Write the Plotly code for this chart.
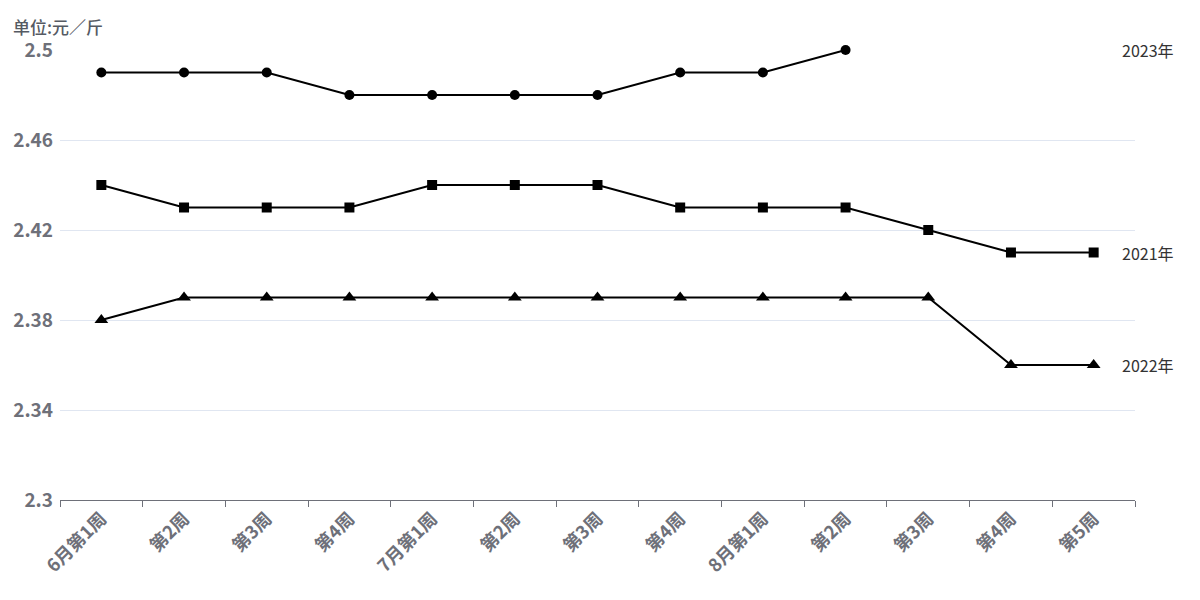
import plotly.graph_objects as go

categories = ["6月第1周", "第2周", "第3周", "第4周", "7月第1周", "第2周", "第3周",
              "第4周", "8月第1周", "第2周", "第3周", "第4周", "第5周"]
y2021 = [2.44, 2.43, 2.43, 2.43, 2.44, 2.44, 2.44, 2.43, 2.43, 2.43, 2.42, 2.41, 2.41]
y2022 = [2.38, 2.39, 2.39, 2.39, 2.39, 2.39, 2.39, 2.39, 2.39, 2.39, 2.39, 2.36, 2.36]
y2023 = [2.49, 2.49, 2.49, 2.48, 2.48, 2.48, 2.48, 2.49, 2.49, 2.50]
yticks = [2.3, 2.34, 2.38, 2.42, 2.46, 2.5]
ytick_text = ["2.3", "2.34", "2.38", "2.42", "2.46", "2.5"]
label_names = ["2023年", "2021年", "2022年"]
label_values = [2.50, 2.41, 2.36]

FONT = "Noto Sans CJK SC"
GRAY = "#6e7079"

fig = go.Figure()
series = [("2021年", y2021, "square", 10), ("2022年", y2022, "triangle-up", 12), ("2023年", y2023, "circle", 10)]
for name, ys, sym, sz in series:
    fig.add_trace(go.Scatter(
        x=list(range(len(ys))), y=ys, name=name, mode="lines+markers",
        line=dict(color="#000000", width=2),
        marker=dict(symbol=sym, size=sz, color="#000000"),
        cliponaxis=False, showlegend=False,
    ))

for txt, yv in zip(label_names, label_values):
    fig.add_annotation(x=1060/1075, xref="paper", y=yv, yref="y", text=txt,
                       showarrow=False, xanchor="left", yanchor="middle",
                       font=dict(family=FONT, size=16, color="#333333"))

fig.add_annotation(x=-49/1075, xref="paper", xanchor="left",
                   y=1 + 24/450, yref="paper", yanchor="middle",
                   text="单位:元／斤", showarrow=False,
                   font=dict(family=FONT, size=17, color="#555a63", weight=500))

fig.update_layout(
    width=1200, height=600,
    margin=dict(l=60, r=65, t=50, b=100),
    plot_bgcolor="white", paper_bgcolor="white",
    font=dict(family=FONT),
    xaxis=dict(
        range=[-0.5, len(categories) - 0.5], automargin=False,
        tickmode="array", tickvals=list(range(len(categories))), ticktext=categories,
        tickangle=-45, ticks="", showgrid=False, zeroline=False,
        showline=True, linecolor=GRAY, linewidth=1,
        tickfont=dict(family=FONT, size=18, color=GRAY, weight="bold"),
        minor=dict(ticks="outside", tick0=-0.5, dtick=1, ticklen=6, tickcolor=GRAY, showgrid=False),
    ),
    yaxis=dict(
        range=[2.3, 2.5], automargin=False, tickmode="array", tickvals=yticks, ticktext=ytick_text,
        showgrid=True, gridcolor="#e0e6f1", gridwidth=1, zeroline=False,
        showline=False, ticks="", ticklabelstandoff=6,
        tickfont=dict(family=FONT, size=19, color=GRAY, weight="bold"),
    ),
)

fig.write_html("out.html", config={"displayModeBar": False},
               post_script="document.body.style.margin='0';document.body.style.padding='0';")
